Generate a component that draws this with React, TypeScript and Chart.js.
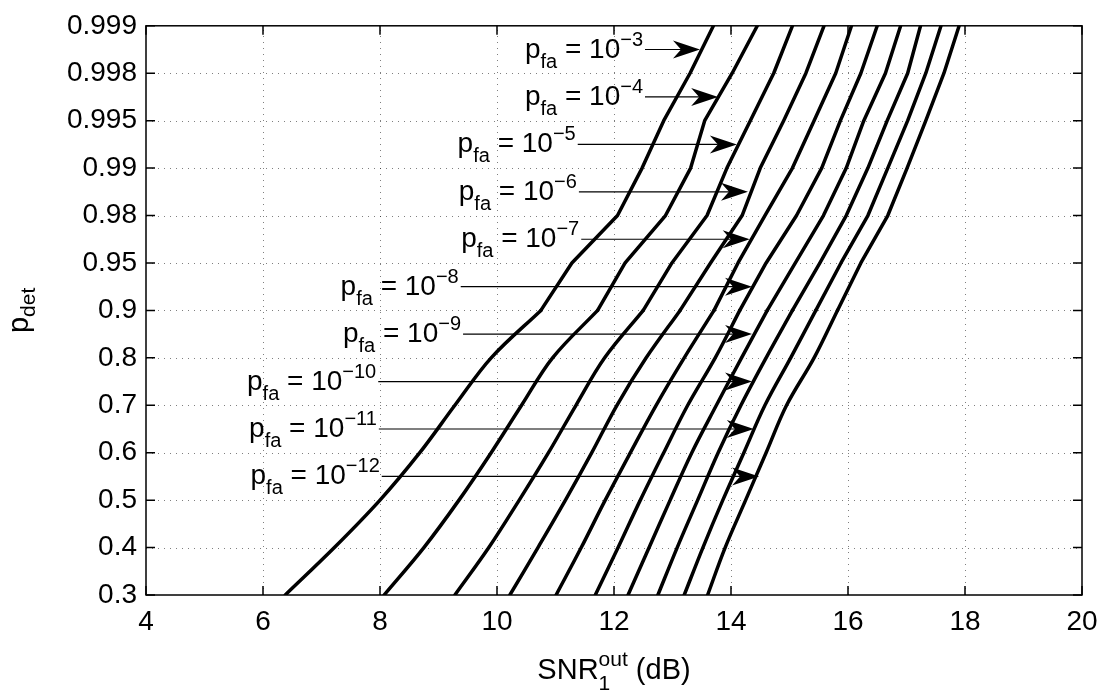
import React, { useEffect, useRef } from "react";
import { Chart, registerables } from "chart.js";

Chart.register(...registerables);

// Probability-paper levels of p_det (y axis) and their tick labels
const PDET_LEVELS = [0.3, 0.4, 0.5, 0.6, 0.7, 0.8, 0.9, 0.95, 0.98, 0.99, 0.995, 0.998, 0.999];
const PDET_TICK_LABELS = ["0.3", "0.4", "0.5", "0.6", "0.7", "0.8", "0.9", "0.95", "0.98", "0.99", "0.995", "0.998", "0.999"];
const SNR_TICKS = [4, 6, 8, 10, 12, 14, 16, 18, 20];

// SNR (dB) needed to reach each p_det level, one array per p_fa
const PFA_EXPONENTS = [-3, -4, -5, -6, -7, -8, -9, -10, -11, -12];
const SNR_PFA_1E3 = [6.38, 7.22, 8.0, 8.68, 9.28, 9.9, 10.75, 11.28, 12.06, 12.48, 12.85, 13.3, 13.7];
const SNR_PFA_1E4 = [8.07, 8.75, 9.35, 9.9, 10.42, 10.95, 11.72, 12.19, 12.88, 13.31, 13.55, 14.02, 14.45];
const SNR_PFA_1E5 = [9.28, 9.86, 10.38, 10.88, 11.35, 11.84, 12.5, 12.99, 13.59, 13.93, 14.33, 14.73, 15.05];
const SNR_PFA_1E6 = [10.22, 10.7, 11.17, 11.62, 12.05, 12.55, 13.13, 13.65, 14.19, 14.5, 14.9, 15.28, 15.59];
const SNR_PFA_1E7 = [11.01, 11.44, 11.85, 12.28, 12.72, 13.2, 13.71, 14.12, 14.58, 15.05, 15.42, 15.79, 16.06];
const SNR_PFA_1E8 = [11.68, 12.07, 12.45, 12.85, 13.26, 13.73, 14.15, 14.6, 15.12, 15.55, 15.87, 16.22, 16.5];
const SNR_PFA_1E9 = [12.24, 12.6, 12.96, 13.33, 13.75, 14.18, 14.62, 15.1, 15.58, 15.97, 16.27, 16.64, 16.9];
const SNR_PFA_1E10 = [12.75, 13.08, 13.43, 13.78, 14.17, 14.6, 15.05, 15.52, 15.97, 16.34, 16.67, 17.02, 17.24];
const SNR_PFA_1E11 = [13.2, 13.52, 13.86, 14.22, 14.58, 15.02, 15.45, 15.88, 16.34, 16.68, 17.02, 17.33, 17.59];
const SNR_PFA_1E12 = [13.6, 13.9, 14.25, 14.6, 14.95, 15.42, 15.82, 16.22, 16.68, 17.01, 17.33, 17.64, 17.9];

const CURVES = [
  SNR_PFA_1E3, SNR_PFA_1E4, SNR_PFA_1E5, SNR_PFA_1E6, SNR_PFA_1E7,
  SNR_PFA_1E8, SNR_PFA_1E9, SNR_PFA_1E10, SNR_PFA_1E11, SNR_PFA_1E12,
];

// Text arrows: p_det level of the arrow, SNR of tail (text end) and tip
const ARROW_PDET = [0.9985, 0.9965, 0.9925, 0.985, 0.965, 0.925, 0.85, 0.75, 0.65, 0.55];
const ARROW_TAIL_SNR = [12.53, 12.53, 11.38, 11.4, 11.44, 9.38, 9.42, 7.97, 7.98, 8.03];
const ARROW_TIP_SNR = [13.47, 13.78, 14.1, 14.29, 14.32, 14.36, 14.36, 14.36, 14.39, 14.48];

// index of the level (0.9) up to which the curves are drawn smooth
const SMOOTH_UNTIL = 6;

const FONT = "'Liberation Sans', Arial, Helvetica, sans-serif";

function pToPos(p: number): number {
  for (let i = 0; i < PDET_LEVELS.length - 1; i++) {
    const a = PDET_LEVELS[i];
    const b = PDET_LEVELS[i + 1];
    if (p >= a && p <= b) return i + (p - a) / (b - a);
  }
  return p < PDET_LEVELS[0] ? 0 : PDET_LEVELS.length - 1;
}

type Part = { text: string; size: number; dy: number };

function partsWidth(ctx: CanvasRenderingContext2D, parts: Part[]) {
  let w = 0;
  for (const p of parts) {
    ctx.font = `${p.size}px ${FONT}`;
    w += ctx.measureText(p.text).width;
  }
  return w;
}

function drawParts(ctx: CanvasRenderingContext2D, parts: Part[], x: number, y: number) {
  let cx = x;
  for (const p of parts) {
    ctx.font = `${p.size}px ${FONT}`;
    ctx.fillText(p.text, cx, y + p.dy);
    cx += ctx.measureText(p.text).width;
  }
}

export default function App() {
  const ref = useRef<HTMLCanvasElement>(null);

  useEffect(() => {
    document.body.style.margin = "0";
    const canvas = ref.current;
    if (!canvas) return;

    const common = {
      borderColor: "#000",
      backgroundColor: "#000",
      borderWidth: 3.5,
      pointRadius: 0,
      fill: false,
      borderJoinStyle: "round" as const,
      borderCapStyle: "round" as const,
    };
    const datasets: any[] = [];
    CURVES.forEach((snr, k) => {
      const pts = snr.map((s, i) => ({ x: s, y: pToPos(PDET_LEVELS[i]) }));
      datasets.push({
        ...common,
        label: `pfa = 1e${PFA_EXPONENTS[k]} (low)`,
        data: pts.slice(0, SMOOTH_UNTIL + 1),
        tension: 0.35,
      });
      datasets.push({
        ...common,
        label: `pfa = 1e${PFA_EXPONENTS[k]} (high)`,
        data: pts.slice(SMOOTH_UNTIL),
        tension: 0,
      });
    });

    const decor = {
      id: "matlabDecor",
      beforeDatasetsDraw(chart: any) {
        const { ctx, chartArea: a, scales } = chart;
        const xs = scales.x;
        const ys = scales.y;
        ctx.save();
        ctx.strokeStyle = "rgba(0,0,0,0.5)";
        ctx.lineWidth = 1;
        ctx.setLineDash([1, 5]);
        SNR_TICKS.forEach((v) => {
          if (v === SNR_TICKS[0] || v === SNR_TICKS[SNR_TICKS.length - 1]) return;
          const px = Math.round(xs.getPixelForValue(v)) + 0.5;
          ctx.beginPath();
          ctx.moveTo(px, a.bottom);
          ctx.lineTo(px, a.top);
          ctx.stroke();
        });
        PDET_LEVELS.forEach((p, i) => {
          if (i === 0 || i === PDET_LEVELS.length - 1) return;
          const py = Math.round(ys.getPixelForValue(pToPos(p))) + 0.5;
          ctx.beginPath();
          ctx.moveTo(a.left, py);
          ctx.lineTo(a.right, py);
          ctx.stroke();
        });
        ctx.restore();
      },
      afterDatasetsDraw(chart: any) {
        const { ctx, chartArea: a, scales } = chart;
        const xs = scales.x;
        const ys = scales.y;
        ctx.save();
        // frame
        ctx.strokeStyle = "#000";
        ctx.lineWidth = 1.5;
        ctx.setLineDash([]);
        ctx.strokeRect(a.left, a.top, a.right - a.left, a.bottom - a.top);
        // inward ticks
        const TL = 9;
        ctx.beginPath();
        SNR_TICKS.forEach((v) => {
          const px = xs.getPixelForValue(v);
          ctx.moveTo(px, a.bottom);
          ctx.lineTo(px, a.bottom - TL);
          ctx.moveTo(px, a.top);
          ctx.lineTo(px, a.top + TL);
        });
        PDET_LEVELS.forEach((p) => {
          const py = ys.getPixelForValue(pToPos(p));
          ctx.moveTo(a.left, py);
          ctx.lineTo(a.left + TL, py);
          ctx.moveTo(a.right, py);
          ctx.lineTo(a.right - TL, py);
        });
        ctx.stroke();

        // arrows with labels
        ctx.fillStyle = "#000";
        ctx.textBaseline = "alphabetic";
        ctx.textAlign = "left";
        ARROW_PDET.forEach((p, k) => {
          const y = ys.getPixelForValue(pToPos(p));
          const x0 = xs.getPixelForValue(ARROW_TAIL_SNR[k]);
          const x1 = xs.getPixelForValue(ARROW_TIP_SNR[k]);
          const HL = 27;
          const HW = 9;
          const NOTCH = 8;
          ctx.strokeStyle = "#000";
          ctx.lineWidth = 1.2;
          ctx.beginPath();
          ctx.moveTo(x0, y);
          ctx.lineTo(x1 - HL + NOTCH, y);
          ctx.stroke();
          ctx.beginPath();
          ctx.moveTo(x1, y);
          ctx.lineTo(x1 - HL, y - HW);
          ctx.lineTo(x1 - HL + NOTCH, y);
          ctx.lineTo(x1 - HL, y + HW);
          ctx.closePath();
          ctx.fill();

          const parts: Part[] = [
            { text: "p", size: 28, dy: 0 },
            { text: "fa", size: 20, dy: 10 },
            { text: " = 10", size: 28, dy: 0 },
            { text: `\u2212${Math.abs(PFA_EXPONENTS[k])}`, size: 20, dy: -12 },
          ];
          const w = partsWidth(ctx, parts);
          drawParts(ctx, parts, x0 - 2 - w, y + 8);
        });

        // x title: SNR_1^out (dB)
        {
          const MAIN = 29;
          const SMALL = 21;
          ctx.font = `${MAIN}px ${FONT}`;
          const wSNR = ctx.measureText("SNR").width;
          ctx.font = `${SMALL}px ${FONT}`;
          const wOut = ctx.measureText("out").width;
          const w1 = ctx.measureText("1").width;
          ctx.font = `${MAIN}px ${FONT}`;
          const wRest = ctx.measureText(" (dB)").width;
          const total = wSNR + Math.max(wOut, w1) + wRest;
          const cx = (a.left + a.right) / 2;
          const bx = cx - total / 2;
          const by = 679;
          ctx.font = `${MAIN}px ${FONT}`;
          ctx.fillText("SNR", bx, by);
          ctx.font = `${SMALL}px ${FONT}`;
          ctx.fillText("out", bx + wSNR, by - 13);
          ctx.fillText("1", bx + wSNR, by + 11);
          ctx.font = `${MAIN}px ${FONT}`;
          ctx.fillText(" (dB)", bx + wSNR + Math.max(wOut, w1), by);
        }
        // y title: p_det (rotated)
        {
          const parts: Part[] = [
            { text: "p", size: 29, dy: 0 },
            { text: "det", size: 21, dy: 7 },
          ];
          const w = partsWidth(ctx, parts);
          const cy = (a.top + a.bottom) / 2;
          ctx.save();
          ctx.translate(28, cy);
          ctx.rotate(-Math.PI / 2);
          drawParts(ctx, parts, -w / 2, 0);
          ctx.restore();
        }
        ctx.restore();
      },
    };

    const chart = new Chart(canvas, {
      type: "line",
      data: { datasets },
      options: {
        animation: false,
        responsive: false,
        devicePixelRatio: 1,
        layout: { padding: { left: 0, top: 15, right: 26, bottom: 0 }, autoPadding: false } as any,
        plugins: { legend: { display: false }, tooltip: { enabled: false } },
        scales: {
          x: {
            type: "linear",
            min: 4,
            max: 20,
            afterBuildTicks: (s: any) => {
              s.ticks = SNR_TICKS.map((v) => ({ value: v }));
            },
            grid: { display: false, drawTicks: false },
            border: { display: false },
            ticks: {
              font: { family: FONT, size: 28 },
              color: "#000",
              padding: 10,
              maxRotation: 0,
              autoSkip: false,
            },
            afterFit: (s: any) => {
              s.height = 99;
            },
          },
          y: {
            type: "linear",
            min: 0,
            max: PDET_LEVELS.length - 1,
            afterBuildTicks: (s: any) => {
              s.ticks = PDET_LEVELS.map((p) => ({ value: pToPos(p) }));
            },
            grid: { display: false, drawTicks: false },
            border: { display: false },
            ticks: {
              font: { family: FONT, size: 28 },
              color: "#000",
              padding: 9,
              autoSkip: false,
              callback: (v: any) => PDET_TICK_LABELS[Math.round(Number(v))] ?? "",
            },
            afterFit: (s: any) => {
              s.width = 146;
            },
          },
        },
      } as any,
      plugins: [decor],
    });
    return () => chart.destroy();
  }, []);

  return (
    <div style={{ width: 1108, height: 694, background: "#fff" }}>
      <canvas ref={ref} width={1108} height={694} style={{ display: "block", width: 1108, height: 694 }} />
    </div>
  );
}
